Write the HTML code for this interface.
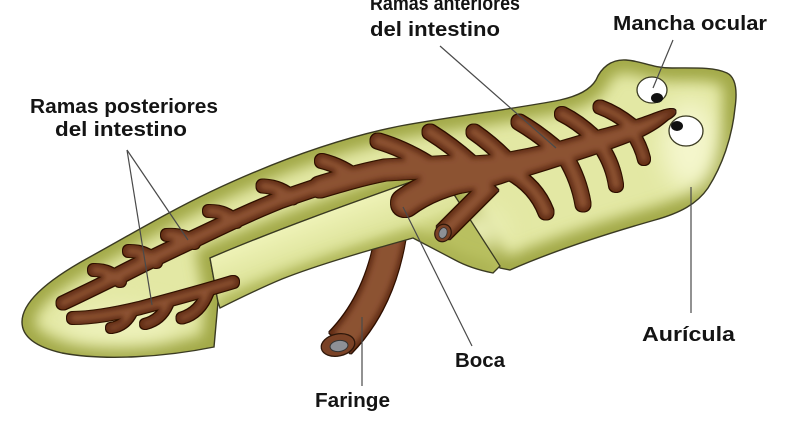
<!DOCTYPE html>
<html><head><meta charset="utf-8"><style>
html,body{margin:0;padding:0;background:#fff;}
svg{display:block;}
text{font-family:"Liberation Sans",sans-serif;font-weight:bold;font-size:20px;fill:#141414;}
</style></head><body>
<svg width="800" height="441" viewBox="0 0 800 441" xmlns="http://www.w3.org/2000/svg">
<defs>
<clipPath id="cb"><path id="bodyp" d="M22,322 C22,302 48,280 88,258 C128,236 168,212 210,192 C265,166 330,140 400,126 C455,116 520,108 560,100 C578,96 590,90 596,80 C601,68 611,59 626,60 C642,61 652,68 672,68 C694,68 714,67 727,73 C737,78 737,94 735,108 C732,138 722,166 708,188 C697,204 680,213 655,220 C620,230 560,248 510,270 L500,268 L453,193 L422,178 C360,200 280,228 210,258 L218,302 L214,347 C165,357 105,361 62,353 C36,347 22,337 22,322 Z"/></clipPath>
<clipPath id="cband"><path d="M210,258 C280,228 360,200 422,178 L453,193 L500,266 L493,273 C478,270 466,266 455,260 L413,238 C370,250 320,264 282,279 C258,289 238,299 220,308 L218,302 Z"/></clipPath>
<filter id="bl" filterUnits="userSpaceOnUse" x="0" y="0" width="800" height="441"><feGaussianBlur stdDeviation="7"/></filter>
<filter id="bl2" filterUnits="userSpaceOnUse" x="0" y="0" width="800" height="441"><feGaussianBlur stdDeviation="12"/></filter>
<linearGradient id="gband" gradientUnits="userSpaceOnUse" x1="330" y1="212" x2="352" y2="270">
<stop offset="0" stop-color="#eef2b6"/><stop offset="0.6" stop-color="#dde39a"/><stop offset="1" stop-color="#b9c060"/></linearGradient>
<filter id="gut" filterUnits="userSpaceOnUse" x="0" y="0" width="800" height="441">
 <feMorphology in="SourceAlpha" operator="dilate" radius="1.2" result="dil"/>
 <feFlood flood-color="#2e170a" result="dk"/>
 <feComposite in="dk" in2="dil" operator="in" result="outline"/>
 <feMorphology in="SourceAlpha" operator="erode" radius="3" result="er"/>
 <feGaussianBlur in="er" stdDeviation="2.2" result="erb"/>
 <feFlood flood-color="#8c5232" result="lt"/>
 <feComposite in="lt" in2="erb" operator="in" result="hl"/>
 <feMerge><feMergeNode in="outline"/><feMergeNode in="SourceGraphic"/><feMergeNode in="hl"/></feMerge>
</filter>
</defs>

<!-- pharynx tube -->
<g filter="url(#gut)">
<path d="M392,228 Q382,300 340,343" stroke="#66331a" stroke-width="30" fill="none"/>
</g>
<ellipse cx="338" cy="345" rx="17" ry="11" transform="rotate(-12 338 345)" fill="#7a4226" stroke="#2e170a" stroke-width="1.3"/>
<ellipse cx="339" cy="346" rx="9" ry="5.5" transform="rotate(-8 339 346)" fill="#8d9096" stroke="#333" stroke-width="1"/>

<!-- main body -->
<use href="#bodyp" fill="#e3e8a4"/>
<g clip-path="url(#cb)">
<use href="#bodyp" fill="none" stroke="#a2a946" stroke-width="26" filter="url(#bl)"/>
<ellipse cx="690" cy="145" rx="28" ry="45" fill="#f4f6cc" filter="url(#bl2)"/>
<ellipse cx="120" cy="325" rx="60" ry="18" fill="#eef2bc" filter="url(#bl2)"/>
<ellipse cx="480" cy="230" rx="25" ry="20" fill="#eef2bc" filter="url(#bl2)"/>
</g>
<use href="#bodyp" fill="none" stroke="#3a3a22" stroke-width="1.4"/>

<!-- ventral band -->
<path d="M210,258 C280,228 360,200 422,178 L453,193 L500,266 L493,273 C478,270 466,266 455,260 L413,238 C370,250 320,264 282,279 C258,289 238,299 220,308 L218,302 Z" fill="url(#gband)"/>
<g clip-path="url(#cband)">
<path d="M220,308 C258,289 320,264 413,238 L460,262 L495,273" fill="none" stroke="#a9b050" stroke-width="14" filter="url(#bl)"/>
</g>
<path d="M210,258 C280,228 360,200 422,178 L453,193 L500,266 L493,273 C478,270 466,266 455,260 L413,238 C370,250 320,264 282,279 C258,289 238,299 220,308 L218,302 Z" fill="none" stroke="#3a3a22" stroke-width="1.3"/>

<!-- mouth oval -->
<ellipse cx="404" cy="204" rx="13" ry="7" transform="rotate(-10 404 204)" fill="#c7cd78" stroke="#3a3a22" stroke-width="1.2"/>

<!-- intestine -->
<g filter="url(#gut)" fill="none" stroke="#66331a" stroke-linecap="round" stroke-linejoin="round">
 <!-- upper posterior branch -->
 <path d="M450,166 C420,166 395,167 380,170 C350,176 320,186 280,200 C250,212 225,224 200,236 C160,255 120,276 63,303" stroke-width="13"/>
 <path d="M455,165 L380,170 C350,176 320,186 280,200 C250,212 225,224 200,236 C170,250 145,262 120,275" stroke-width="16"/>
 <path d="M455,166 L385,170 C360,175 340,181 320,187" stroke-width="21"/>
 <path d="M120,281 Q110,270 94,270" stroke-width="12"/>
 <path d="M156,262 Q146,251 129,251" stroke-width="12"/>
 <path d="M194,243 Q184,234 167,235" stroke-width="12"/>
 <path d="M236,222 Q226,211 209,211" stroke-width="12"/>
 <path d="M292,198 Q281,187 263,186" stroke-width="13"/>
 <path d="M358,179 Q342,166 322,161" stroke-width="14"/>
 <path d="M427,163 Q402,148 378,141" stroke-width="15"/>
 <!-- lower posterior branch -->
 <path d="M233,282 C200,292 170,300 140,308 C115,314 90,318 73,318" stroke-width="12"/>
 <path d="M132,312 Q125,326 111,328" stroke-width="10"/>
 <path d="M168,304 Q161,320 145,324" stroke-width="10"/>
 <path d="M208,292 Q200,313 182,318" stroke-width="11"/>
 <!-- anterior branches up -->
 <path d="M470,162 Q451,145 430,132" stroke-width="15"/>
 <path d="M505,158 Q490,143 474,132" stroke-width="15"/>
 <path d="M553,146 Q536,132 519,122" stroke-width="15"/>
 <path d="M593,136 Q578,122 562,114" stroke-width="14"/>
 <path d="M631,125 Q616,113 600,107" stroke-width="13"/>
 <!-- anterior branches down -->
 <path d="M510,172 Q536,186 546,212" stroke-width="15"/>
 <path d="M566,158 Q579,180 583,204" stroke-width="15"/>
 <path d="M602,148 Q613,165 616,185" stroke-width="14"/>
 <path d="M632,132 Q641,146 644,159" stroke-width="12"/>
 <!-- stub -->
 <path d="M492,184 L443,233" stroke-width="18" stroke-linecap="butt"/>
 <!-- pharynx root -->
 <path d="M472,176 Q432,183 405,203" stroke-width="28"/>
 <!-- trunk -->
 <path d="M440,157 C470,157 490,156 507,153 C540,147 560,142 573,138 C600,130 625,124 640,119 C655,114 665,109 672,109 C678,110 676,115 668,119 C660,126 652,131 640,137 C615,147 595,154 573,161 C550,168 530,175 507,181 C490,187 470,192 450,194 Z" fill="#66331a" stroke="none"/>
</g>
<!-- stub cap -->
<ellipse cx="443" cy="233" rx="8" ry="9" transform="rotate(30 443 233)" fill="#7a4226" stroke="#2e170a" stroke-width="1.2"/>
<ellipse cx="443" cy="233" rx="4" ry="5.5" transform="rotate(20 443 233)" fill="#8d9096" stroke="#333" stroke-width="0.8"/>

<!-- eyes -->
<ellipse cx="652" cy="90" rx="15" ry="13" fill="#fff" stroke="#3a3a22" stroke-width="1.3"/>
<ellipse cx="657" cy="98" rx="6" ry="5" fill="#111"/>
<ellipse cx="686" cy="131" rx="17" ry="15" fill="#fff" stroke="#3a3a22" stroke-width="1.3"/>
<ellipse cx="677" cy="126" rx="6" ry="5" fill="#111"/>

<!-- pointer lines -->
<g stroke="#4a4a4a" stroke-width="1.2" fill="none">
 <path d="M127,150 L152,305"/>
 <path d="M127,150 L188,240"/>
 <path d="M440,46 L556,148"/>
 <path d="M673,40 L653,88"/>
 <path d="M691,187 L691,313"/>
 <path d="M403,207 L472,346"/>
 <path d="M362,317 L362,386"/>
</g>

<!-- labels -->
<text x="30" y="113" textLength="188" lengthAdjust="spacingAndGlyphs">Ramas posteriores</text>
<text x="55" y="136" textLength="132" lengthAdjust="spacingAndGlyphs">del intestino</text>
<text x="370" y="10" textLength="150" lengthAdjust="spacingAndGlyphs">Ramas anteriores</text>
<text x="370" y="36" textLength="130" lengthAdjust="spacingAndGlyphs">del intestino</text>
<text x="613" y="30" textLength="154" lengthAdjust="spacingAndGlyphs">Mancha ocular</text>
<text x="642" y="341" textLength="93" lengthAdjust="spacingAndGlyphs">Aurícula</text>
<text x="455" y="367" textLength="50" lengthAdjust="spacingAndGlyphs">Boca</text>
<text x="315" y="407" textLength="75" lengthAdjust="spacingAndGlyphs">Faringe</text>
</svg>
</body></html>
